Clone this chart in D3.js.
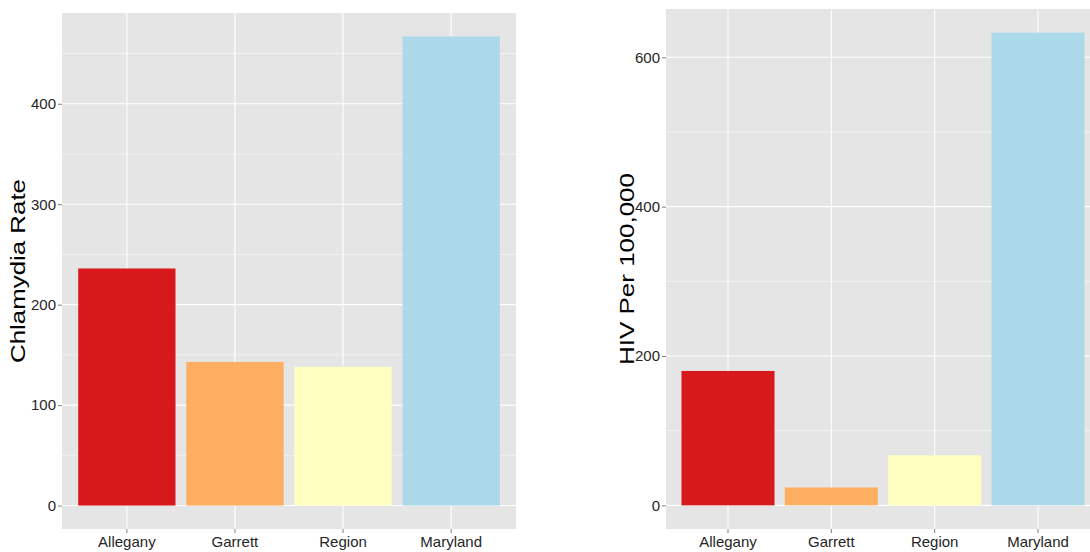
<!DOCTYPE html>
<html>
<head>
<meta charset="utf-8">
<script src="https://cdn.jsdelivr.net/npm/d3@7"></script>
<style>
  html, body { margin: 0; padding: 0; background: #ffffff; }
  svg { display: block; }
</style>
</head>
<body>
<svg id="chart" width="1090" height="552"></svg>
<script>
// ---- data ----
const categories = ["Allegany", "Garrett", "Region", "Maryland"];
const colors = ["#d7191c", "#fdae61", "#ffffbf", "#abd9e9"];

const chlamydiaValues = [236, 143, 138, 467];
const chlamydiaTicks = [0, 100, 200, 300, 400];
const chlamydiaMinor = [50, 150, 250, 350, 450];
const chlamydiaTitle = "Chlamydia Rate";

const hivValues = [180, 24, 67, 633];
const hivTicks = [0, 200, 400, 600];
const hivMinor = [100, 300, 500];
const hivTitle = "HIV Per 100,000";

// ---- drawing ----
const svg = d3.select("#chart");
svg.append("rect").attr("width", 1090).attr("height", 552).attr("fill", "#ffffff");

function panel(opts) {
  const { x0, x1, y0, y1, values, ticks, minor, title, titleX, titleLen } = opts;
  const g = svg.append("g");

  const x = d3.scaleBand().domain(categories).range([x0, x1])
    .paddingInner(0.1).paddingOuter(0.15);
  const maxV = d3.max(values);
  const y = d3.scaleLinear().domain([-0.05 * maxV, 1.05 * maxV]).range([y1, y0]);

  // panel background
  g.append("rect").attr("x", x0).attr("y", y0)
    .attr("width", x1 - x0).attr("height", y1 - y0).attr("fill", "#e5e5e5");

  // minor grid
  g.selectAll(".minor").data(minor).enter().append("line")
    .attr("x1", x0).attr("x2", x1)
    .attr("y1", d => y(d)).attr("y2", d => y(d))
    .attr("stroke", "#f2f2f2").attr("stroke-width", 1);

  // major grid
  g.selectAll(".majory").data(ticks).enter().append("line")
    .attr("x1", x0).attr("x2", x1)
    .attr("y1", d => y(d)).attr("y2", d => y(d))
    .attr("stroke", "#ffffff").attr("stroke-width", 1.1);
  g.selectAll(".majorx").data(categories).enter().append("line")
    .attr("x1", d => x(d) + x.bandwidth() / 2).attr("x2", d => x(d) + x.bandwidth() / 2)
    .attr("y1", y0).attr("y2", y1)
    .attr("stroke", "#ffffff").attr("stroke-width", 1.1);

  // bars
  g.selectAll(".bar").data(values).enter().append("rect")
    .attr("x", (d, i) => x(categories[i]))
    .attr("width", x.bandwidth())
    .attr("y", d => y(d))
    .attr("height", d => y(0) - y(d))
    .attr("fill", (d, i) => colors[i]);

  // y axis
  const yAxis = d3.axisLeft(y).tickValues(ticks).tickSize(4).tickPadding(2).tickFormat(d3.format("d"));
  const ya = g.append("g").attr("transform", `translate(${x0},0)`).call(yAxis);
  ya.select(".domain").remove();
  ya.selectAll(".tick line").attr("stroke", "#7f7f7f");
  ya.selectAll(".tick text").attr("fill", "#262626")
    .style("font-family", "'Liberation Sans', Arial, sans-serif").style("font-size", "15px");

  // x axis
  const xAxis = d3.axisBottom(x).tickSize(4).tickPadding(3);
  const xa = g.append("g").attr("transform", `translate(0,${y1})`).call(xAxis);
  xa.select(".domain").remove();
  xa.selectAll(".tick line").attr("stroke", "#7f7f7f");
  xa.selectAll(".tick text").attr("fill", "#262626")
    .style("font-family", "'Liberation Sans', Arial, sans-serif").style("font-size", "15px");

  // axis title
  svg.append("text")
    .attr("transform", `translate(${titleX},${(y0 + y1) / 2}) rotate(-90)`)
    .attr("text-anchor", "middle")
    .attr("textLength", titleLen)
    .attr("lengthAdjust", "spacingAndGlyphs")
    .attr("fill", "#000000")
    .style("font-family", "'Liberation Sans', Arial, sans-serif")
    .style("font-size", "20px")
    .text(title);
}

panel({ x0: 62, x1: 516, y0: 13, y1: 529, values: chlamydiaValues, ticks: chlamydiaTicks,
        minor: chlamydiaMinor, title: chlamydiaTitle, titleX: 25, titleLen: 184 });
panel({ x0: 666, x1: 1100, y0: 9, y1: 529, values: hivValues, ticks: hivTicks,
        minor: hivMinor, title: hivTitle, titleX: 634, titleLen: 192 });
</script>
</body>
</html>
